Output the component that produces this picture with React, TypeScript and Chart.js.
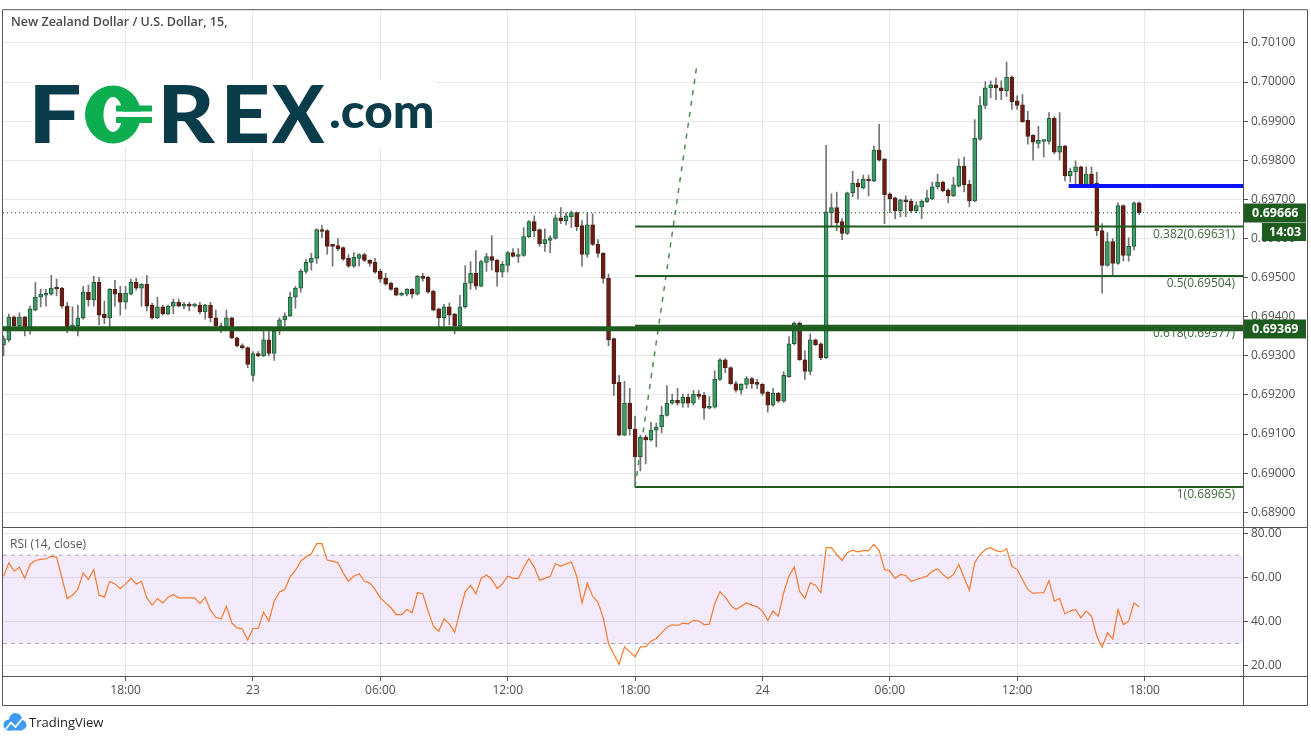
import React, { useEffect, useRef } from 'react';
import { Chart, registerables } from 'chart.js';

Chart.register(...registerables);

const W = 1311;
const H = 742;

// ---------- data ----------
const timeTickIdx = [23, 47, 71, 95, 119, 143, 167, 191, 215];
const timeTickLabels = ['18:00', '23', '06:00', '12:00', '18:00', '24', '06:00', '12:00', '18:00'];
const priceTicks = [0.689, 0.690, 0.691, 0.692, 0.693, 0.694, 0.695, 0.696, 0.697, 0.698, 0.699, 0.700, 0.701];
const rsiTicks = [20, 40, 60, 80];

const opens = [
  0.69328,0.69341,0.69399,0.69377,0.69399,0.69369,0.69417,0.69450,0.69455,0.69458,
  0.69473,0.69473,0.69427,0.69366,0.69377,0.69397,0.69463,0.69443,0.69488,0.69407,
  0.69397,0.69470,0.69460,0.69437,0.69458,0.69488,0.69473,0.69483,0.69430,0.69397,
  0.69425,0.69407,0.69427,0.69437,0.69427,0.69430,0.69427,0.69430,0.69412,0.69430,
  0.69397,0.69377,0.69371,0.69397,0.69346,0.69326,0.69321,0.69250,0.69306,0.69300,
  0.69341,0.69306,0.69364,0.69392,0.69402,0.69450,0.69473,0.69516,0.69539,0.69549,
  0.69623,0.69620,0.69582,0.69582,0.69577,0.69549,0.69529,0.69549,0.69559,0.69544,
  0.69539,0.69516,0.69498,0.69486,0.69473,0.69455,0.69458,0.69470,0.69458,0.69503,
  0.69501,0.69465,0.69420,0.69397,0.69425,0.69407,0.69377,0.69425,0.69486,0.69511,
  0.69478,0.69539,0.69554,0.69544,0.69514,0.69531,0.69564,0.69554,0.69557,0.69605,
  0.69643,0.69623,0.69587,0.69595,0.69600,0.69653,0.69645,0.69656,0.69666,0.69633,
  0.69559,0.69635,0.69585,0.69562,0.69498,0.69344,0.69232,0.69097,0.69179,0.69113,
  0.69042,0.69092,0.69085,0.69110,0.69118,0.69148,0.69179,0.69186,0.69179,0.69194,
  0.69179,0.69202,0.69199,0.69166,0.69169,0.69240,0.69290,0.69270,0.69229,0.69212,
  0.69227,0.69242,0.69232,0.69227,0.69207,0.69174,0.69204,0.69184,0.69247,0.69331,
  0.69384,0.69290,0.69260,0.69341,0.69331,0.69295,0.69666,0.69679,0.69643,0.69613,
  0.69717,0.69742,0.69729,0.69752,0.69747,0.69826,0.69803,0.69714,0.69704,0.69671,
  0.69699,0.69696,0.69671,0.69681,0.69694,0.69701,0.69732,0.69744,0.69724,0.69709,
  0.69734,0.69785,0.69739,0.69696,0.69854,0.69940,0.69985,0.69993,0.69985,0.69978,
  0.70013,0.69952,0.69942,0.69902,0.69864,0.69843,0.69848,0.69848,0.69907,0.69821,
  0.69836,0.69760,0.69770,0.69783,0.69734,0.69765,0.69742,0.69620,0.69531,0.69592,
  0.69536,0.69684,0.69557,0.69580,0.69691,
];

const highs = [
  0.69351,0.69407,0.69402,0.69410,0.69401,0.69427,0.69488,0.69470,0.69470,0.69506,
  0.69496,0.69475,0.69437,0.69425,0.69430,0.69478,0.69481,0.69503,0.69501,0.69440,
  0.69472,0.69493,0.69478,0.69478,0.69496,0.69498,0.69485,0.69506,0.69435,0.69450,
  0.69430,0.69430,0.69445,0.69445,0.69437,0.69437,0.69435,0.69437,0.69432,0.69437,
  0.69417,0.69384,0.69417,0.69399,0.69348,0.69331,0.69323,0.69311,0.69311,0.69366,
  0.69371,0.69366,0.69397,0.69410,0.69463,0.69478,0.69521,0.69547,0.69562,0.69625,
  0.69633,0.69623,0.69584,0.69600,0.69579,0.69559,0.69564,0.69561,0.69562,0.69546,
  0.69549,0.69521,0.69511,0.69488,0.69475,0.69462,0.69472,0.69472,0.69506,0.69511,
  0.69503,0.69468,0.69422,0.69432,0.69435,0.69409,0.69455,0.69531,0.69541,0.69569,
  0.69544,0.69562,0.69607,0.69547,0.69541,0.69567,0.69574,0.69574,0.69628,0.69646,
  0.69658,0.69625,0.69625,0.69607,0.69661,0.69679,0.69666,0.69671,0.69668,0.69646,
  0.69666,0.69663,0.69597,0.69564,0.69509,0.69346,0.69250,0.69235,0.69217,0.69146,
  0.69097,0.69097,0.69130,0.69128,0.69171,0.69224,0.69202,0.69217,0.69202,0.69202,
  0.69212,0.69212,0.69207,0.69196,0.69262,0.69293,0.69293,0.69272,0.69235,0.69229,
  0.69247,0.69245,0.69240,0.69229,0.69209,0.69217,0.69207,0.69260,0.69349,0.69387,
  0.69387,0.69313,0.69356,0.69343,0.69334,0.69838,0.69714,0.69719,0.69651,0.69719,
  0.69772,0.69752,0.69762,0.69762,0.69836,0.69892,0.69805,0.69717,0.69706,0.69701,
  0.69709,0.69701,0.69694,0.69699,0.69724,0.69744,0.69765,0.69747,0.69727,0.69757,
  0.69803,0.69808,0.69749,0.69904,0.69963,0.70001,0.70003,0.70011,0.70003,0.70051,
  0.70016,0.69965,0.69968,0.69925,0.69866,0.69887,0.69853,0.69922,0.69912,0.69922,
  0.69838,0.69780,0.69798,0.69785,0.69783,0.69783,0.69770,0.69638,0.69615,0.69600,
  0.69691,0.69686,0.69602,0.69694,0.69694,
];

const lows = [
  0.69300,0.69336,0.69374,0.69364,0.69351,0.69356,0.69415,0.69425,0.69427,0.69455,
  0.69453,0.69422,0.69359,0.69364,0.69351,0.69394,0.69427,0.69427,0.69379,0.69382,
  0.69369,0.69427,0.69404,0.69420,0.69456,0.69468,0.69427,0.69415,0.69394,0.69395,
  0.69404,0.69405,0.69407,0.69425,0.69420,0.69415,0.69425,0.69407,0.69394,0.69387,
  0.69374,0.69359,0.69369,0.69344,0.69323,0.69318,0.69270,0.69235,0.69298,0.69298,
  0.69300,0.69288,0.69354,0.69377,0.69400,0.69422,0.69463,0.69511,0.69519,0.69536,
  0.69602,0.69559,0.69529,0.69569,0.69544,0.69526,0.69526,0.69529,0.69541,0.69529,
  0.69511,0.69488,0.69481,0.69468,0.69453,0.69453,0.69453,0.69448,0.69455,0.69491,
  0.69460,0.69415,0.69371,0.69377,0.69379,0.69356,0.69371,0.69422,0.69470,0.69470,
  0.69476,0.69516,0.69519,0.69478,0.69501,0.69514,0.69552,0.69539,0.69554,0.69602,
  0.69605,0.69580,0.69567,0.69564,0.69598,0.69638,0.69635,0.69628,0.69620,0.69529,
  0.69552,0.69582,0.69552,0.69486,0.69326,0.69199,0.69095,0.69095,0.69097,0.68965,
  0.69006,0.69024,0.69082,0.69067,0.69103,0.69146,0.69176,0.69174,0.69169,0.69169,
  0.69174,0.69189,0.69138,0.69164,0.69166,0.69237,0.69257,0.69227,0.69207,0.69202,
  0.69217,0.69217,0.69217,0.69199,0.69156,0.69171,0.69181,0.69181,0.69245,0.69328,
  0.69288,0.69240,0.69252,0.69326,0.69290,0.69293,0.69630,0.69620,0.69597,0.69610,
  0.69707,0.69701,0.69727,0.69709,0.69745,0.69798,0.69638,0.69666,0.69651,0.69656,
  0.69656,0.69666,0.69666,0.69651,0.69692,0.69699,0.69727,0.69719,0.69691,0.69707,
  0.69732,0.69719,0.69681,0.69694,0.69851,0.69932,0.69960,0.69955,0.69955,0.69963,
  0.69930,0.69930,0.69897,0.69841,0.69800,0.69831,0.69808,0.69841,0.69816,0.69800,
  0.69747,0.69744,0.69737,0.69732,0.69732,0.69732,0.69607,0.69460,0.69529,0.69506,
  0.69534,0.69542,0.69542,0.69570,0.69661,
];

const closes = [
  0.69344,0.69399,0.69377,0.69399,0.69366,0.69420,0.69450,0.69458,0.69460,0.69473,
  0.69471,0.69427,0.69366,0.69379,0.69397,0.69463,0.69443,0.69488,0.69404,0.69397,
  0.69470,0.69458,0.69437,0.69460,0.69488,0.69473,0.69483,0.69427,0.69397,0.69425,
  0.69407,0.69427,0.69437,0.69427,0.69430,0.69427,0.69430,0.69412,0.69430,0.69397,
  0.69377,0.69366,0.69397,0.69346,0.69326,0.69321,0.69278,0.69306,0.69300,0.69341,
  0.69306,0.69364,0.69392,0.69402,0.69450,0.69473,0.69516,0.69539,0.69549,0.69623,
  0.69618,0.69580,0.69580,0.69574,0.69547,0.69529,0.69552,0.69559,0.69544,0.69536,
  0.69514,0.69496,0.69483,0.69470,0.69455,0.69460,0.69470,0.69458,0.69503,0.69498,
  0.69463,0.69417,0.69397,0.69425,0.69404,0.69377,0.69425,0.69486,0.69511,0.69478,
  0.69541,0.69554,0.69544,0.69514,0.69534,0.69564,0.69554,0.69559,0.69605,0.69643,
  0.69620,0.69587,0.69597,0.69602,0.69653,0.69645,0.69658,0.69666,0.69630,0.69559,
  0.69635,0.69585,0.69562,0.69498,0.69341,0.69229,0.69097,0.69179,0.69113,0.69042,
  0.69092,0.69085,0.69110,0.69118,0.69148,0.69179,0.69186,0.69179,0.69194,0.69179,
  0.69202,0.69196,0.69166,0.69171,0.69240,0.69290,0.69270,0.69229,0.69212,0.69227,
  0.69242,0.69229,0.69227,0.69204,0.69174,0.69204,0.69184,0.69250,0.69331,0.69384,
  0.69290,0.69260,0.69341,0.69328,0.69295,0.69668,0.69679,0.69640,0.69613,0.69717,
  0.69742,0.69732,0.69752,0.69747,0.69826,0.69800,0.69712,0.69701,0.69671,0.69699,
  0.69694,0.69671,0.69684,0.69696,0.69704,0.69732,0.69744,0.69722,0.69709,0.69737,
  0.69785,0.69737,0.69696,0.69856,0.69940,0.69985,0.69993,0.69985,0.69978,0.70013,
  0.69950,0.69940,0.69899,0.69861,0.69846,0.69851,0.69851,0.69907,0.69821,0.69836,
  0.69760,0.69772,0.69783,0.69734,0.69765,0.69737,0.69620,0.69531,0.69592,0.69536,
  0.69684,0.69557,0.69580,0.69691,0.69666,
];

const rsiValues = [
  60.5,66.6,62.8,64.6,59.5,65.8,67.6,68.1,68.4,69.6,
  69.1,59.8,50.4,51.9,54.5,62,59,63.5,51.9,51,
  58.2,57,54.8,57,59.5,57,58.2,50.7,47.4,50.4,
  48.4,51,52.2,50.7,50.7,50.7,50.7,48.1,51,45,
  41.9,41.2,46.9,39.4,37.1,36.6,31.7,36.8,36.8,44.2,
  40.1,49.2,53.4,54.5,60.2,63.1,67.3,69.3,70.6,75.2,
  75.2,67.8,67.3,66.6,62,58.2,60.5,61.6,58.2,57.5,
  54.5,50.7,48.4,46.2,43.1,43.1,45.4,43.9,53,52.5,
  44.7,37.9,35.6,41.2,38.9,35.1,44.7,53.4,56.4,52.5,
  59.5,61,59,54.9,57,60.5,59.5,59.5,64.3,68.4,
  64.6,58.7,59.5,60.5,66.1,65,66.1,66.9,60.5,48.4,
  57.2,51.4,48.7,41.6,30,25,20.5,28.5,26.2,24,
  28.5,28.6,31,32.3,34.8,37.4,38.5,38.2,39.2,38.9,
  40.5,40.2,38.6,38.8,48,53.4,51,47.4,45.4,46.9,
  48.4,47.4,46.6,44.7,40.4,44.7,42.4,53,60.5,64.7,
  53.7,50.4,57.5,56.4,53,73.4,73.4,70.3,67.6,71.1,
  72.3,71.5,72.1,72.1,74.9,72.1,63.5,62.8,59.5,61.3,
  60.8,58.2,59,59.8,60.5,62.8,63.8,61.3,59.3,61.3,
  65.8,59.8,54.2,66.6,70.3,72.6,73.4,72.1,71.5,73,
  65,63.5,59,54.5,52.7,53,53,58.5,49.2,50.4,
  43.4,44.7,45.4,41.6,44.7,42.4,33.3,28.3,34.8,32.1,
  45.4,38.6,40.1,48.4,46.6,
];

const fibRatios = ['0.382', '0.5', '0.618', '1'];
const fibPrices = [0.69631, 0.69504, 0.69377, 0.68965];
const fibStartIdx = 119;
const levelPrice = 0.69369;
const resistancePrice = 0.69734;
const resistanceStartIdx = 200.7;
const trendStart = { x: 119, y: 0.68965 };
const trendEnd = { x: 130.6, y: 0.70039 };
const rsiUpper = 70;
const rsiLower = 30;
const countdownText = '14:03';
const titleText = 'New Zealand Dollar / U.S. Dollar, 15,';

// ---------- view ----------
const X_MIN = -0.1;
const X_MAX = 233.55;
const PRICE_MIN = 0.68862;
const PRICE_MAX = 0.701837;
const RSI_MIN = 15.3;
const RSI_MAX = 82.7;

const FONT = '"Open Sans", "Liberation Sans", sans-serif';
const DARK_GREEN = '#1e5b1f';
const AXIS_COLOR = '#4f4f4f';
const GRID = '#e7e7e7';
const FRAME = '#555555';

function fitText(ctx: CanvasRenderingContext2D, txt: string, left: number, right: number, baseline: number) {
  const m = ctx.measureText(txt);
  const inkW = m.actualBoundingBoxLeft + m.actualBoundingBoxRight;
  const s = (right - left) / inkW;
  ctx.save();
  ctx.translate(left, baseline);
  ctx.scale(s, 1);
  ctx.fillText(txt, m.actualBoundingBoxLeft, 0);
  ctx.restore();
}

function drawForexLogo(ctx: CanvasRenderingContext2D) {
  const navy = '#0b3c4a';
  const green = '#0cae4f';
  ctx.save();
  ctx.fillStyle = '#ffffff';
  ctx.fillRect(32, 80, 404, 68);
  ctx.textBaseline = 'alphabetic';
  ctx.textAlign = 'left';
  ctx.font = `900 80px Lato, "Open Sans", sans-serif`;
  ctx.fillStyle = navy;
  fitText(ctx, 'F', 35, 80, 143);
  fitText(ctx, 'R', 164, 216, 143);
  fitText(ctx, 'E', 227, 268, 143);
  fitText(ctx, 'X', 271, 325, 143);
  ctx.font = `900 48px Lato, "Open Sans", sans-serif`;
  fitText(ctx, '.com', 330, 432, 128);
  // green "0" with its currency bars
  ctx.fillStyle = green;
  ctx.beginPath();
  ctx.ellipse(113, 114.5, 28, 29, 0, 0, Math.PI * 2);
  ctx.fill();
  ctx.fillStyle = '#ffffff';
  ctx.beginPath();
  ctx.ellipse(113, 114.5, 9.5, 17.5, 0, 0, Math.PI * 2);
  ctx.fill();
  ctx.fillRect(118, 111.5, 36, 5.5);
  ctx.fillStyle = green;
  ctx.fillRect(116, 105.5, 36, 6);
  ctx.fillRect(116, 117, 36, 6);
  ctx.restore();
}

function drawTradingViewLogo(ctx: CanvasRenderingContext2D) {
  ctx.save();
  ctx.fillStyle = '#3d9cf0';
  ctx.beginPath();
  ctx.arc(9, 725, 5.5, 0, Math.PI * 2);
  ctx.arc(15.5, 719.5, 6.5, 0, Math.PI * 2);
  ctx.arc(21.5, 725, 5, 0, Math.PI * 2);
  ctx.fill();
  ctx.fillRect(8, 724, 14, 6.5);
  ctx.strokeStyle = '#ffffff';
  ctx.lineWidth = 1.8;
  ctx.beginPath();
  ctx.moveTo(6, 729);
  ctx.lineTo(11, 722.5);
  ctx.lineTo(15.5, 727);
  ctx.lineTo(22, 719);
  ctx.stroke();
  ctx.fillStyle = '#1f1f1f';
  ctx.font = `13px ${FONT}`;
  ctx.textBaseline = 'middle';
  ctx.fillText('TradingView', 29, 723);
  ctx.restore();
}

const overlayPlugin = {
  id: 'overlay',
  beforeDraw(chart: any) {
    const ctx = chart.ctx as CanvasRenderingContext2D;
    ctx.save();
    ctx.fillStyle = '#ffffff';
    ctx.fillRect(0, 0, chart.width, chart.height);
    ctx.restore();
  },
  afterDraw(chart: any) {
    const ctx = chart.ctx as CanvasRenderingContext2D;
    const xs = chart.scales.x;
    const ys = chart.scales.y;
    const rs = chart.scales.rsi;
    const area = chart.chartArea;

    drawForexLogo(ctx);

    ctx.save();
    // title
    ctx.font = `600 12.5px ${FONT}`;
    ctx.fillStyle = '#4a4a4a';
    ctx.textBaseline = 'middle';
    ctx.textAlign = 'left';
    ctx.fillText(titleText, 11, 22);

    // RSI label
    ctx.font = `12px ${FONT}`;
    ctx.fillStyle = '#555555';
    ctx.fillText('RSI (14, close)', 10, rs.top + 17);

    // fib labels
    ctx.font = `12px ${FONT}`;
    ctx.fillStyle = '#3b6b3b';
    ctx.textAlign = 'right';
    fibPrices.forEach((p, k) => {
      const y = ys.getPixelForValue(p);
      ctx.fillText(`${fibRatios[k]}(${p.toFixed(5)})`, area.right - 8, y + 8);
    });

    // frame
    ctx.strokeStyle = FRAME;
    ctx.lineWidth = 1;
    const L = area.left - 0.5;
    const R = ys.right + 0.5;
    const T = area.top - 0.5;
    const B = xs.bottom + 0.5;
    ctx.beginPath();
    ctx.rect(L, T, R - L, B - T);
    ctx.moveTo(area.right + 0.5, T);
    ctx.lineTo(area.right + 0.5, B);
    ctx.moveTo(L, Math.round(rs.top) + 0.5);
    ctx.lineTo(R, Math.round(rs.top) + 0.5);
    ctx.moveTo(L, Math.round(area.bottom) + 0.5);
    ctx.lineTo(R, Math.round(area.bottom) + 0.5);
    ctx.stroke();

    // price boxes
    const boxL = area.right + 1;
    const boxR = ys.right - 1;
    const lastClose = closes[closes.length - 1];
    const drawBox = (price: number, text: string) => {
      const y = Math.round(ys.getPixelForValue(price));
      ctx.fillStyle = DARK_GREEN;
      ctx.fillRect(boxL, y - 9.5, boxR - boxL, 19);
      ctx.fillStyle = '#ffffff';
      ctx.font = `bold 12.5px ${FONT}`;
      ctx.textAlign = 'left';
      ctx.textBaseline = 'middle';
      ctx.fillText(text, boxL + 8, y + 0.5);
      return y;
    };
    const cy = drawBox(lastClose, lastClose.toFixed(5));
    ctx.fillStyle = DARK_GREEN;
    ctx.fillRect(boxL + 18, cy + 10, boxR - boxL - 18, 18);
    ctx.fillStyle = '#ffffff';
    ctx.font = `bold 12.5px ${FONT}`;
    ctx.fillText(countdownText, boxL + 25, cy + 19.5);
    drawBox(levelPrice, levelPrice.toFixed(5));
    ctx.restore();

    drawTradingViewLogo(ctx);
  },
};

function hLine(price: number, fromX: number, width: number, color: string, dash: number[] = []) {
  return {
    type: 'line' as const,
    yAxisID: 'y',
    data: [{ x: fromX, y: price }, { x: X_MAX, y: price }],
    borderColor: color,
    borderWidth: width,
    borderDash: dash,
    pointRadius: 0,
    fill: false,
    order: 0,
  };
}

export default function App() {
  const ref = useRef<HTMLCanvasElement>(null);

  useEffect(() => {
    const canvas = ref.current;
    if (!canvas) return;

    const idx = opens.map((_, i) => i);
    const up = idx.map((i) => closes[i] >= opens[i]);

    const datasets: any[] = [
      {
        type: 'line',
        yAxisID: 'rsi',
        data: [{ x: X_MIN, y: rsiUpper }, { x: X_MAX, y: rsiUpper }],
        borderColor: '#b4a7bd',
        borderWidth: 1,
        borderDash: [4, 4],
        pointRadius: 0,
        fill: '+1',
        backgroundColor: 'rgba(150, 60, 232, 0.11)',
        order: 5,
      },
      {
        type: 'line',
        yAxisID: 'rsi',
        data: [{ x: X_MIN, y: rsiLower }, { x: X_MAX, y: rsiLower }],
        borderColor: '#b4a7bd',
        borderWidth: 1,
        borderDash: [4, 4],
        pointRadius: 0,
        fill: false,
        order: 5,
      },
      {
        type: 'line',
        yAxisID: 'rsi',
        data: idx.map((i) => ({ x: i, y: rsiValues[i] })),
        borderColor: '#f57a2e',
        borderWidth: 1.2,
        pointRadius: 0,
        tension: 0,
        fill: false,
        order: 0,
      },
      {
        type: 'bar',
        yAxisID: 'y',
        data: idx.map((i) => ({ x: i, y: [lows[i], highs[i]] })),
        backgroundColor: '#737373',
        borderWidth: 0,
        barThickness: 1,
        grouped: false,
        order: 3,
      },
      {
        type: 'bar',
        yAxisID: 'y',
        data: idx.map((i) => ({ x: i, y: [opens[i], closes[i]] })),
        backgroundColor: up.map((u) => (u ? '#3f9b69' : '#6f1a16')),
        borderColor: up.map((u) => (u ? '#1f5a36' : '#4a2414')),
        borderWidth: 1,
        borderSkipped: false,
        barThickness: 4,
        minBarLength: 2,
        grouped: false,
        order: 2,
      },
      hLine(levelPrice, X_MIN, 5, DARK_GREEN),
      ...fibPrices.map((p) => hLine(p, fibStartIdx, 2, DARK_GREEN)),
      hLine(closes[closes.length - 1], X_MIN, 1, DARK_GREEN, [1, 3]),
      hLine(resistancePrice, resistanceStartIdx, 4, '#0a14f5'),
      {
        type: 'line',
        yAxisID: 'y',
        data: [trendStart, trendEnd],
        borderColor: '#4b8b4b',
        borderWidth: 1.5,
        borderDash: [5, 6],
        pointRadius: 0,
        fill: false,
        order: 0,
      },
    ];

    const tickFont = { family: FONT, size: 12 };

    const chart = new Chart(canvas, {
      type: 'bar',
      data: { datasets },
      plugins: [overlayPlugin],
      options: {
        responsive: false,
        animation: false,
        events: [],
        layout: { padding: { left: 3, top: 5, right: 4, bottom: 37 } },
        plugins: {
          legend: { display: false },
          tooltip: { enabled: false },
          title: { display: false },
        },
        scales: {
          x: {
            type: 'linear',
            position: 'bottom',
            min: X_MIN,
            max: X_MAX,
            offset: false,
            afterBuildTicks: (s: any) => {
              s.ticks = timeTickIdx.map((v) => ({ value: v }));
            },
            afterFit: (s: any) => {
              s.height = 29;
            },
            ticks: {
              font: tickFont,
              color: AXIS_COLOR,
              maxRotation: 0,
              autoSkip: false,
              padding: 2,
              callback: (_v: any, i: number) => timeTickLabels[i],
            },
            grid: { offset: false, color: GRID, tickColor: FRAME, tickLength: 5 },
            border: { display: true, color: FRAME },
          },
          y: {
            type: 'linear',
            position: 'right',
            stack: 'panes',
            stackWeight: 521,
            min: PRICE_MIN,
            max: PRICE_MAX,
            afterBuildTicks: (s: any) => {
              s.ticks = priceTicks.map((v) => ({ value: v }));
            },
            afterFit: (s: any) => {
              s.width = 64;
            },
            ticks: {
              font: tickFont,
              color: AXIS_COLOR,
              padding: 3,
              callback: (v: any) => Number(v).toFixed(5),
            },
            grid: { offset: false, color: GRID, tickColor: FRAME, tickLength: 5 },
            border: { display: true, color: FRAME },
          },
          rsi: {
            type: 'linear',
            position: 'right',
            stack: 'panes',
            stackWeight: 150,
            min: RSI_MIN,
            max: RSI_MAX,
            afterBuildTicks: (s: any) => {
              s.ticks = rsiTicks.map((v) => ({ value: v }));
            },
            afterFit: (s: any) => {
              s.width = 64;
            },
            ticks: {
              font: tickFont,
              color: AXIS_COLOR,
              padding: 3,
              callback: (v: any) => Number(v).toFixed(2),
            },
            grid: { offset: false, color: GRID, tickColor: FRAME, tickLength: 5 },
            border: { display: true, color: FRAME },
          },
        },
      } as any,
    });

    return () => chart.destroy();
  }, []);

  return (
    <div style={{ position: 'fixed', left: 0, top: 0, width: W, height: H, background: '#ffffff' }}>
      <canvas ref={ref} width={W} height={H} style={{ display: 'block', width: W, height: H }} />
    </div>
  );
}
